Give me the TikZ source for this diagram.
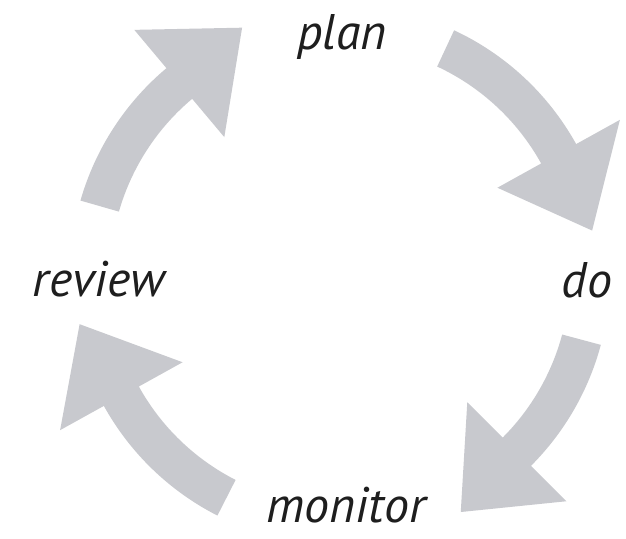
\documentclass[tikz,border=0pt]{standalone}
\usepackage{fontspec}
\setmainfont{PT Sans}
\definecolor{arrowgray}{RGB}{200,201,206}
\definecolor{labelink}{RGB}{30,30,30}
\newcommand\cyclearrow[4]{%
  \fill[arrowfill] (#1:270pt) arc[start angle=#1, end angle=#2, radius=270pt]
    -- (#2:320pt) -- (#3:#4pt) -- (#2:180pt) -- (#2:230pt)
    arc[start angle=#2, end angle=#1, radius=230pt] -- cycle;}
\begin{document}
\begin{tikzpicture}[x=1pt,y=1pt,
  arrowfill/.style={fill=arrowgray},
  steplabel/.style={anchor=base, text=labelink, inner sep=0pt,
    font=\fontsize{50pt}{60pt}\selectfont\itshape}]
\useasboundingbox (0,0) rectangle (626,538);
\fill[white] (0,0) rectangle (626,538);
\begin{scope}[shift={(340pt,263pt)}]
  \cyclearrow{164}{130}{111.6}{266}
  \cyclearrow{65}{29}{10}{256}
  \cyclearrow{-15}{-45}{-63}{266}
  \cyclearrow{243}{209}{190.7}{265}
\end{scope}
\node[steplabel] (plan) at (342,488) {plan};
\node[steplabel] (do) at (587,240) {do};
\node[steplabel] (review) at (99,241) {review};
\node[steplabel] (monitor) at (346,16) {monitor};
\end{tikzpicture}
\end{document}
